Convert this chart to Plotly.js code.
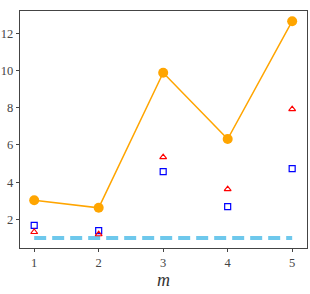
<!DOCTYPE html>
<html><head><meta charset="utf-8">
<script src="https://cdn.plot.ly/plotly-3.0.1.min.js"></script>
<style>body{margin:0;padding:0;background:#fff}</style>
</head><body>
<div id="chart" style="width:310px;height:294px"></div>
<script>
var mValues = [1, 2, 3, 4, 5];
var orangeSeries = [3.03, 2.62, 9.88, 6.32, 12.65];
var blueSquares = [1.68, 1.39, 4.57, 2.68, 4.73];
var redTriangles = [1.32, 1.2, 5.34, 3.62, 7.92];
var baseline = [1, 1, 1, 1, 1];
var xTicks = [1, 2, 3, 4, 5];
var yTicks = [2, 4, 6, 8, 10, 12];

var traces = [
  {x: mValues, y: baseline, type: 'scatter', mode: 'lines',
   line: {color: '#6ec8ec', width: 4, dash: '12px,6px'}, hoverinfo: 'skip'},
  {x: mValues, y: orangeSeries, type: 'scatter', mode: 'lines+markers',
   line: {color: 'orange', width: 1.5}, marker: {color: 'orange', size: 10}},
  {x: mValues, y: blueSquares, type: 'scatter', mode: 'markers',
   marker: {symbol: 'square-open', color: 'blue', size: 6, line: {width: 1.2}}},
  {x: mValues, y: redTriangles, type: 'scatter', mode: 'markers',
   marker: {symbol: 'triangle-up-open', color: 'red', size: 6, line: {width: 1.2}}}
];

var layout = {
  width: 310, height: 294,
  margin: {l: 20, r: 3, t: 11, b: 46},
  showlegend: false,
  paper_bgcolor: '#fff', plot_bgcolor: '#fff',
  font: {family: 'Liberation Serif, DejaVu Serif, serif', size: 12.5, color: '#444'},
  xaxis: {
    range: [0.78, 5.23], tickvals: xTicks, ticktext: xTicks.map(String),
    showgrid: false, zeroline: false, showline: true, mirror: true,
    linecolor: '#444', linewidth: 1.2, ticks: 'outside', ticklen: 3, tickcolor: '#444',
    title: {text: '<i>m</i>', font: {size: 18, color: '#333'}, standoff: 1}
  },
  yaxis: {
    range: [0.46, 13.2], tickvals: yTicks, ticktext: yTicks.map(String),
    showgrid: false, zeroline: false, showline: true, mirror: true,
    linecolor: '#444', linewidth: 1.2, ticks: 'outside', ticklen: 3, tickcolor: '#444'
  }
};
Plotly.newPlot('chart', traces, layout, {displayModeBar: false, staticPlot: true});
</script>
</body></html>
